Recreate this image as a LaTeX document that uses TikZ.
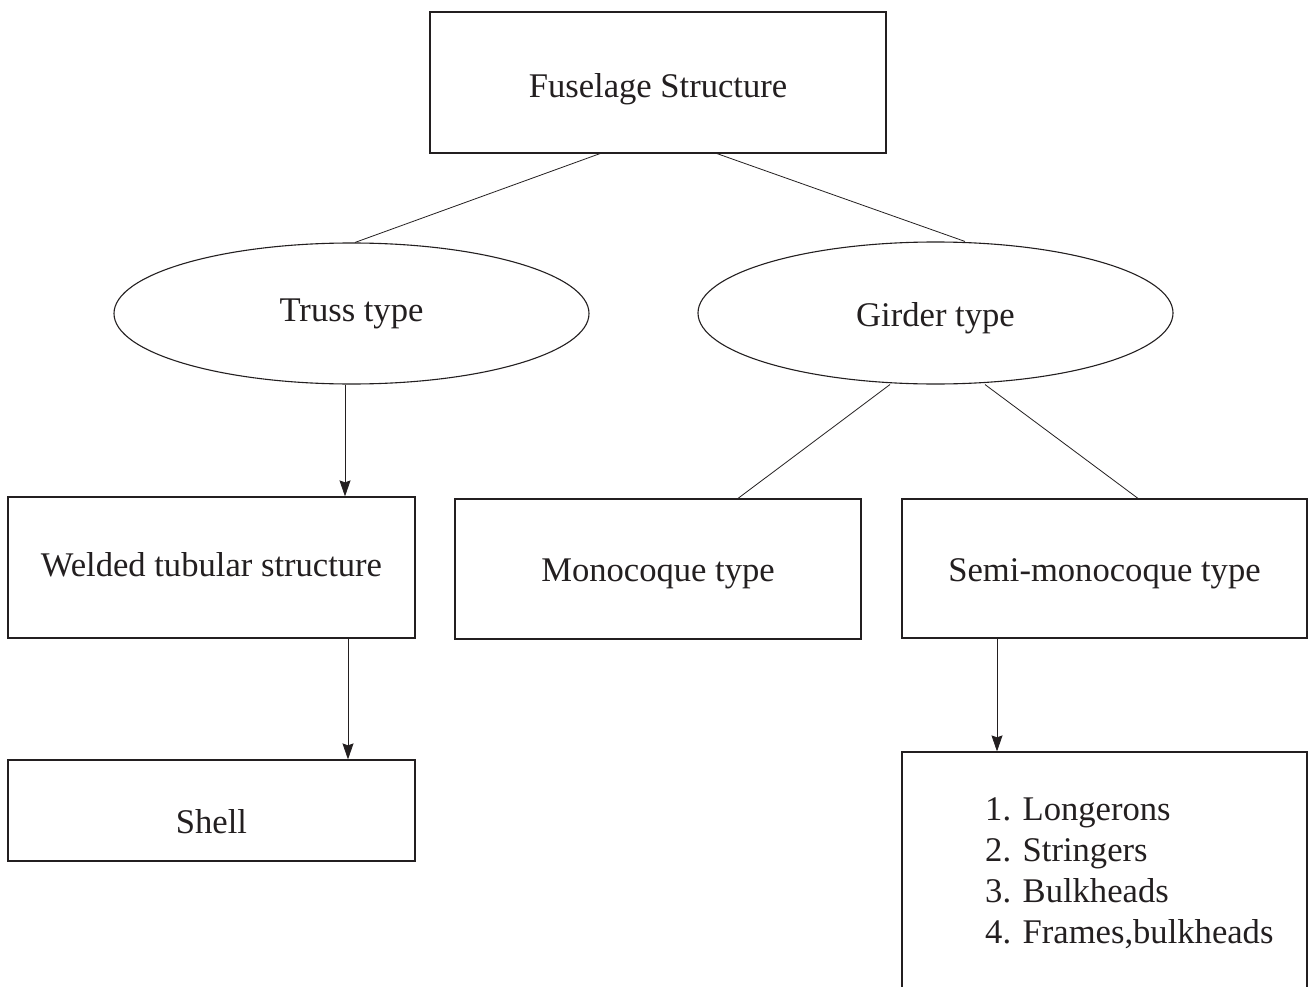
\documentclass[tikz,border=0pt]{standalone}
\usepackage{fontspec}
\setmainfont{Liberation Serif}
\usetikzlibrary{shapes.geometric,arrows.meta}
\definecolor{ink}{HTML}{231F20}
\begin{document}
\begin{tikzpicture}[x=1pt,y=-1pt,
  every node/.style={font=\fontsize{34.6}{41}\selectfont, text=ink, inner sep=0pt},
  bl/.style={text height=#1, text depth=0pt},
  box/.style={draw=ink, line width=1.2pt, rectangle},
  oval/.style={draw=ink, line width=1.1pt, ellipse},
  conn/.style={draw=ink, line width=0.8pt},
  arr/.style={conn, -{Stealth[width=11pt,length=16pt,inset=2pt]}}]
\path[use as bounding box] (0,0) rectangle (1309,987);
\clip (0,0) rectangle (1309,987);
\fill[white] (0,0) rectangle (1309,987);

\node[box, minimum width=456pt, minimum height=141pt, bl=30pt] (fus) at (658,82.5) {Fuselage Structure};
\node[oval, minimum width=475pt, minimum height=141pt, bl=16pt] (truss) at (351.5,313.5) {Truss type};
\node[oval, minimum width=475pt, minimum height=142pt, bl=26pt] (girder) at (935.5,313) {Girder type};
\node[box, minimum width=407pt, minimum height=141pt, bl=18pt] (welded) at (211.5,567.5) {Welded tubular structure};
\node[box, minimum width=406pt, minimum height=140pt, bl=24pt] (mono) at (658,569) {Monocoque type};
\node[box, minimum width=405pt, minimum height=139pt, bl=25pt] (semi) at (1104.5,568.5) {Semi-monocoque type};
\node[box, minimum width=407pt, minimum height=101pt, bl=45pt] (shell) at (211.5,810.5) {Shell};
\node[box, minimum width=405pt, minimum height=260pt] (list) at (1104.5,882) {};
\node[anchor=north west, align=left] (listtext) at (985,797.5)
  {1. Longerons\\2. Stringers\\3. Bulkheads\\4. Frames,bulkheads};

\draw[conn] (fus.south -| 600,0) -- (truss.north -| 355,0);
\draw[conn] (fus.south -| 717,0) -- (girder.north -| 965,0);
\draw[conn] (girder.south -| 890,0) -- (mono.north -| 738,0);
\draw[conn] (girder.south -| 985,0) -- (semi.north -| 1138,0);
\draw[arr] (truss.south -| 345,0) -- (welded.north -| 345,0);
\draw[arr] (welded.south -| 348,0) -- (shell.north -| 348,0);
\draw[arr] (semi.south -| 997,0) -- (list.north -| 997,0);
\end{tikzpicture}
\end{document}
